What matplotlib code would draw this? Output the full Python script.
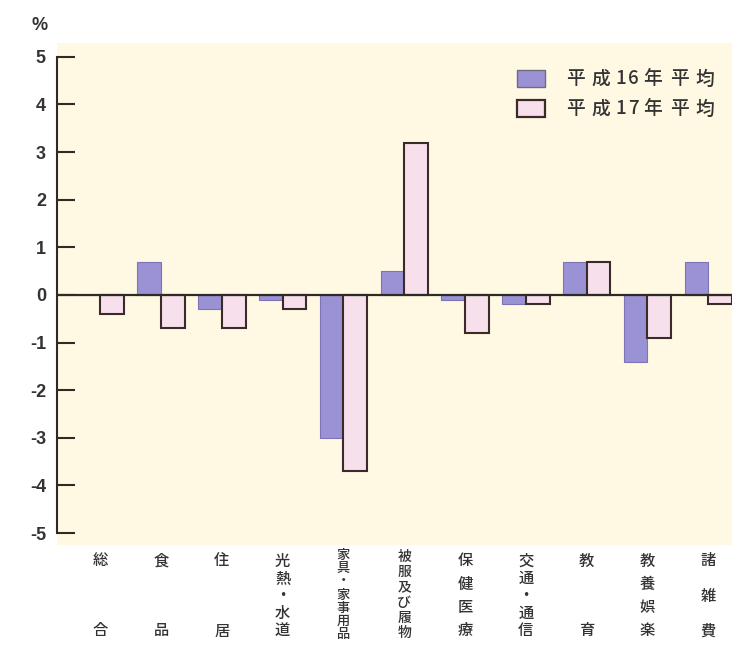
import matplotlib.pyplot as plt
import matplotlib.transforms as mtransforms
from matplotlib.patches import Rectangle
import numpy as np

plt.rcParams['font.family'] = ['Noto Sans CJK JP', 'DejaVu Sans']

W, H = 732, 649

categories = ['総合', '食品', '住居', '光熱・水道', '家具・家事用品', '被服及び履物',
              '保健医療', '交通・通信', '教育', '教養娯楽', '諸雑費']
h16 = [0.0, 0.7, -0.3, -0.1, -3.0, 0.5, -0.1, -0.2, 0.7, -1.4, 0.7]
h17 = [-0.4, -0.7, -0.7, -0.3, -3.7, 3.2, -0.8, -0.2, 0.7, -0.9, -0.2]
series_names = ['平成16年平均', '平成17年平均']
yticks = list(range(-5, 6))

BG = '#fff9e4'
PURPLE = '#9a92d4'
PURPLE_EDGE = '#7c74b4'
PINK = '#f7dfec'
PINK_EDGE = '#3a2a2a'
DARK = '#2e2a26'
TEXT = '#333333'

fig = plt.figure(figsize=(W / 100, H / 100), dpi=100)
ax = fig.add_axes([57 / W, 1 - 545 / H, 1 - 57 / W, (545 - 43) / H])
ax.set_facecolor(BG)

x = np.arange(len(categories))
bw = 0.39
ax.bar(x - bw / 2, h16, bw, color=PURPLE, edgecolor=PURPLE_EDGE, linewidth=0.8, zorder=2)
ax.bar(x + bw / 2, h17, bw, color=PINK, edgecolor=PINK_EDGE, linewidth=1.5, zorder=2)
ax.axhline(0, color=DARK, lw=1.6, zorder=3)

ax.set_xlim(-0.71, 10.39)
ax.set_ylim(-5.25, 5.29)
ax.set_xticks([])
ax.set_yticks(yticks)
ax.set_yticklabels([str(t) for t in yticks], family='Liberation Sans', fontsize=13,
                   fontweight='bold', color=TEXT)
ax.tick_params(axis='y', direction='in', length=13, width=1.5, color=DARK, pad=8)
for side in ['top', 'right', 'bottom']:
    ax.spines[side].set_visible(False)
ax.spines['left'].set_bounds(-5, 5)
ax.spines['left'].set_linewidth(1.5)
ax.spines['left'].set_color(DARK)

fig.text(40 / W, 1 - 26 / H, '%', family='Liberation Sans', fontsize=13,
         fontweight='bold', color=TEXT, ha='center', va='center')

# vertical category labels, one glyph per row
trans = mtransforms.blended_transform_factory(ax.transData, fig.transFigure)
for xi, name in zip(x, categories):
    n = len(name)
    if n <= 5:
        rows, size = np.linspace(561, 631, n), 11
    elif n == 6:
        rows, size = np.linspace(557, 633, n), 10
    else:
        rows, size = np.linspace(555, 634, n), 9.5
    for ch, ypx in zip(name, rows):
        ax.text(xi, 1 - ypx / H, ch, transform=trans, fontsize=size, color=TEXT,
                fontweight='medium', ha='center', va='center', clip_on=False)

# legend drawn by hand so the wide letter spacing holds
for i, (name, fc, ec, lw) in enumerate(zip(series_names, [PURPLE, PINK],
                                           ['#6e6a80', PINK_EDGE], [1.0, 1.6])):
    top = 70 + i * 30
    fig.patches.append(Rectangle((517 / W, 1 - (top + 17) / H), 28 / W, 17 / H,
                                 transform=fig.transFigure, facecolor=fc,
                                 edgecolor=ec, linewidth=lw))
    xpx = 563
    for ch in name:
        adv = 13 if ch.isascii() else 26
        fig.text((xpx + adv / 2 - 1) / W, 1 - (top + 9) / H, ch, fontsize=13.5,
                 fontweight='medium', color=TEXT, ha='center', va='center')
        xpx += adv

fig.savefig('out.png', dpi=100, facecolor='white')
